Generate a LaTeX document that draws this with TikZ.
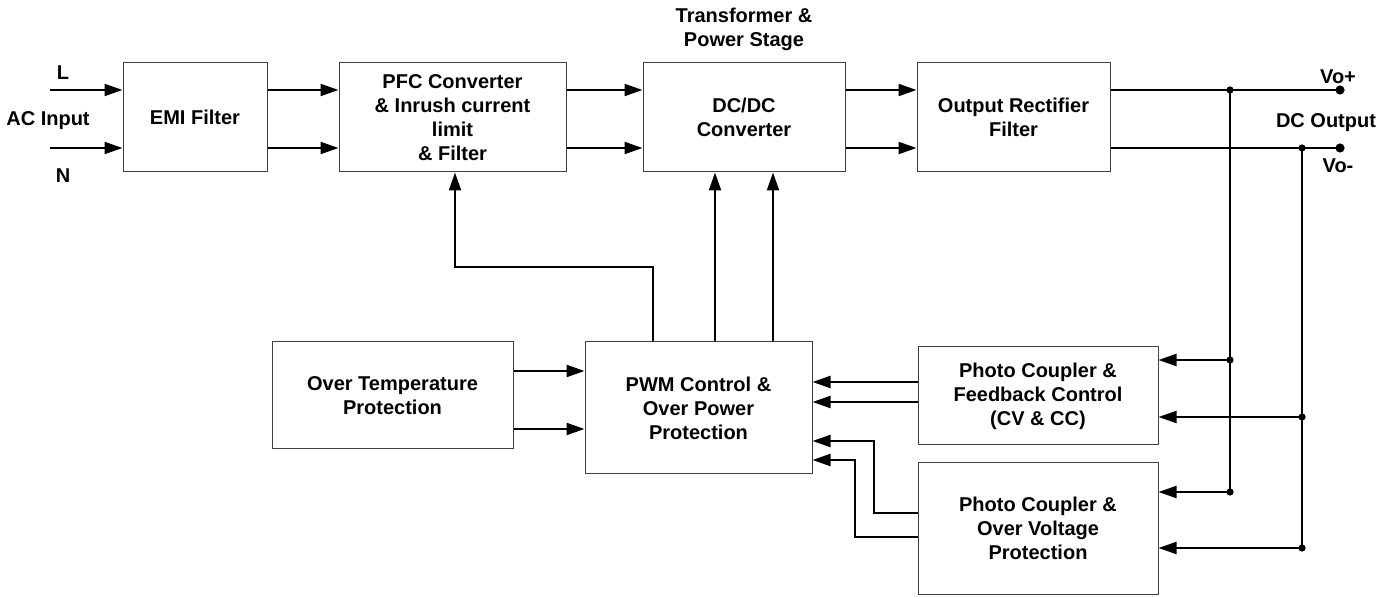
\documentclass[tikz,border=0pt]{standalone}
\usepackage{fontspec}
\setmainfont{Liberation Sans}
\usetikzlibrary{arrows.meta}

\tikzset{
    block/.style={draw=black!75, line width=0.5pt, inner sep=0pt, align=center, font=\bfseries},
    arr/.style={line width=1.1pt, -{Triangle[length=9pt,width=6pt]}},
    wire/.style={line width=1.1pt},
    lbl/.style={font=\bfseries, align=center, inner sep=0pt},
}

\begin{document}
\begin{tikzpicture}[x=0.5pt, y=-0.5pt]
    \useasboundingbox (0,0) rectangle (1395,597);
    % power path
    \node[block, minimum width=72pt, minimum height=54.5pt] (emi) at (195,117.5) {EMI Filter};
    \node[block, minimum width=113.5pt, minimum height=54.5pt] (pfc) at (452.5,117.5)
        {PFC Converter\\ \& Inrush current\\ limit\\ \& Filter};
    \node[block, minimum width=101pt, minimum height=54.5pt] (dcdc) at (744,117.5) {DC/DC\\ Converter};
    \node[block, minimum width=96.5pt, minimum height=54.5pt] (orf) at (1013.5,117.5) {Output Rectifier\\ Filter};
    % control part
    \node[block, minimum width=120.5pt, minimum height=53.5pt] (otp) at (392.5,395.5) {Over Temperature\\ Protection};
    \node[block, minimum width=113.5pt, minimum height=66pt] (pwm) at (698.5,408) {PWM Control \&\\ Over Power\\ Protection};
    \node[block, minimum width=120pt, minimum height=49pt] (fb) at (1038,396) {Photo Coupler \&\\ Feedback Control\\ (CV \& CC)};
    \node[block, minimum width=120pt, minimum height=65.5pt] (ovp) at (1038,528.5) {Photo Coupler \&\\ Over Voltage\\ Protection};

    % labels
    \node[lbl] (lL) at (63,73) {L};
    \node[lbl] (lN) at (63,176) {N};
    \node[lbl] (lac) at (48,121) {AC Input};
    \node[lbl] (ltr) at (744,29) {Transformer \&\\ Power Stage};
    \node[lbl] (lvp) at (1338,77) {Vo+};
    \node[lbl] (ldc) at (1326,123) {DC Output};
    \node[lbl] (lvm) at (1338,166) {Vo-};

    % points
    \coordinate (inL) at (50,90);
    \coordinate (inN) at (50,148);
    \coordinate (vp) at (1340,90);
    \coordinate (vm) at (1340,148);
    \coordinate (jp) at (1230,90);
    \coordinate (jm) at (1302,148);
    \coordinate (fbp) at (1230,360);
    \coordinate (fbm) at (1302,417);
    \coordinate (ovpp) at (1230,492);
    \coordinate (ovpm) at (1302,548);

    % forward arrows
    \draw[arr] (inL) -- (inL -| emi.west);
    \draw[arr] (inN) -- (inN -| emi.west);
    \draw[arr] (emi.east |- inL) -- (pfc.west |- inL);
    \draw[arr] (emi.east |- inN) -- (pfc.west |- inN);
    \draw[arr] (pfc.east |- inL) -- (dcdc.west |- inL);
    \draw[arr] (pfc.east |- inN) -- (dcdc.west |- inN);
    \draw[arr] (dcdc.east |- inL) -- (orf.west |- inL);
    \draw[arr] (dcdc.east |- inN) -- (orf.west |- inN);
    \draw[wire] (orf.east |- inL) -- (vp);
    \draw[wire] (orf.east |- inN) -- (vm);

    % sense lines
    \draw[wire] (jp) -- (ovpp);
    \draw[wire] (jm) -- (ovpm);
    \draw[arr] (fbp) -- (fbp -| fb.east);
    \draw[arr] (fbm) -- (fbm -| fb.east);
    \draw[arr] (ovpp) -- (ovpp -| ovp.east);
    \draw[arr] (ovpm) -- (ovpm -| ovp.east);
    \foreach \p in {jp, jm, fbp, fbm, ovpp, ovpm}
        \fill (\p) circle (1.8pt);
    \fill (vp) circle (2.3pt);
    \fill (vm) circle (2.3pt);

    % control arrows
    \draw[arr] (pwm.north -| 653,0) |- (455,267) -- (pfc.south -| 455,0);
    \draw[arr] (pwm.north -| 715,0) -- (dcdc.south -| 715,0);
    \draw[arr] (pwm.north -| 773,0) -- (dcdc.south -| 773,0);
    \draw[arr] (otp.east |- 0,371) -- (pwm.west |- 0,371);
    \draw[arr] (otp.east |- 0,429) -- (pwm.west |- 0,429);
    \draw[arr] (fb.west |- 0,382) -- (pwm.east |- 0,382);
    \draw[arr] (fb.west |- 0,402) -- (pwm.east |- 0,402);
    \draw[arr] (ovp.west |- 0,513) -| (874,441) -- (pwm.east |- 0,441);
    \draw[arr] (ovp.west |- 0,537) -| (855,460) -- (pwm.east |- 0,460);
\end{tikzpicture}
\end{document}
